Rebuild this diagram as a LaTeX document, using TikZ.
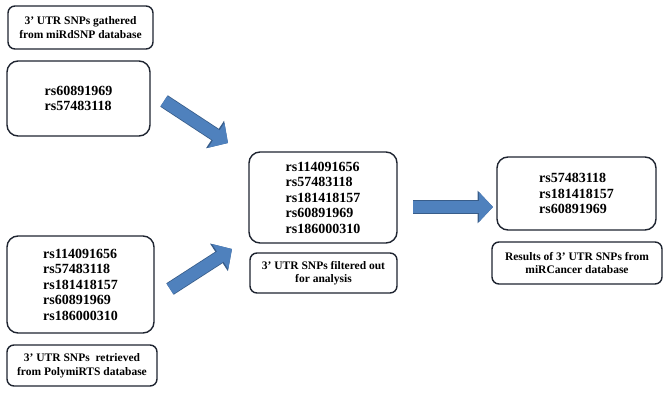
\documentclass[tikz,border=0pt]{standalone}
\usepackage{fontspec}
\setmainfont{Liberation Serif}
\usetikzlibrary{arrows.meta}
\definecolor{arrfill}{HTML}{4F81BD}
\definecolor{arrline}{HTML}{385D8A}
\definecolor{boxline}{HTML}{1E2430}
\tikzset{
  listbox/.style={draw=boxline, line width=1.4pt, rounded corners=11pt, fill=white,
    align=left, font=\bfseries\fontsize{14}{15.5}\selectfont, inner sep=0pt},
  labelbox/.style={draw=boxline, line width=1.4pt, rounded corners=7pt, fill=white,
    align=center, font=\bfseries\fontsize{11.5}{13.5}\selectfont, inner sep=0pt},
  blockarrow/.style={line width=12pt, draw=arrfill,
    -{Triangle[length=14pt,width=29pt]},
    preaction={draw=arrline, line width=13.6pt, -{Triangle[length=15.5pt,width=32pt]}}}
}
\begin{document}
\begin{tikzpicture}[x=1pt,y=-1pt]
\useasboundingbox (0,0) rectangle (668,398);
\node[labelbox, minimum width=145pt, minimum height=43pt] (A) at (80.5,27.5)
  {3’ UTR SNPs gathered\\from miRdSNP database};
\node[listbox, minimum width=143pt, minimum height=75pt] (B) at (78.5,98.5)
  {rs60891969\\rs57483118};
\node[listbox, minimum width=147pt, minimum height=97pt] (C) at (80.5,284.5)
  {rs114091656\\rs57483118\\rs181418157\\rs60891969\\rs186000310};
\node[labelbox, minimum width=150pt, minimum height=41pt] (D) at (82,365.5)
  {3’ UTR SNPs\ \ retrieved\\from PolymiRTS database};
\node[listbox, minimum width=148pt, minimum height=91pt] (E) at (323,197.5)
  {rs114091656\\rs57483118\\rs181418157\\rs60891969\\rs186000310};
\node[labelbox, minimum width=147pt, minimum height=40pt] (F) at (323.5,273)
  {3’ UTR SNPs filtered out\\for analysis};
\node[listbox, minimum width=159pt, minimum height=73pt] (G) at (576.5,193.5)
  {rs57483118\\rs181418157\\rs60891969};
\node[labelbox, minimum width=170pt, minimum height=42pt] (H) at (577,263)
  {Results of 3’ UTR SNPs from\\miRCancer database};
\coordinate (a1s) at (164,101);
\coordinate (a1e) at (228,143);
\coordinate (a2s) at (170,289);
\coordinate (a2e) at (232,249);
\coordinate (a3s) at (413,207);
\coordinate (a3e) at (493,207);
\draw[blockarrow] (a1s) -- (a1e);
\draw[blockarrow] (a2s) -- (a2e);
\draw[blockarrow] (a3s) -- (a3e);
\end{tikzpicture}
\end{document}
